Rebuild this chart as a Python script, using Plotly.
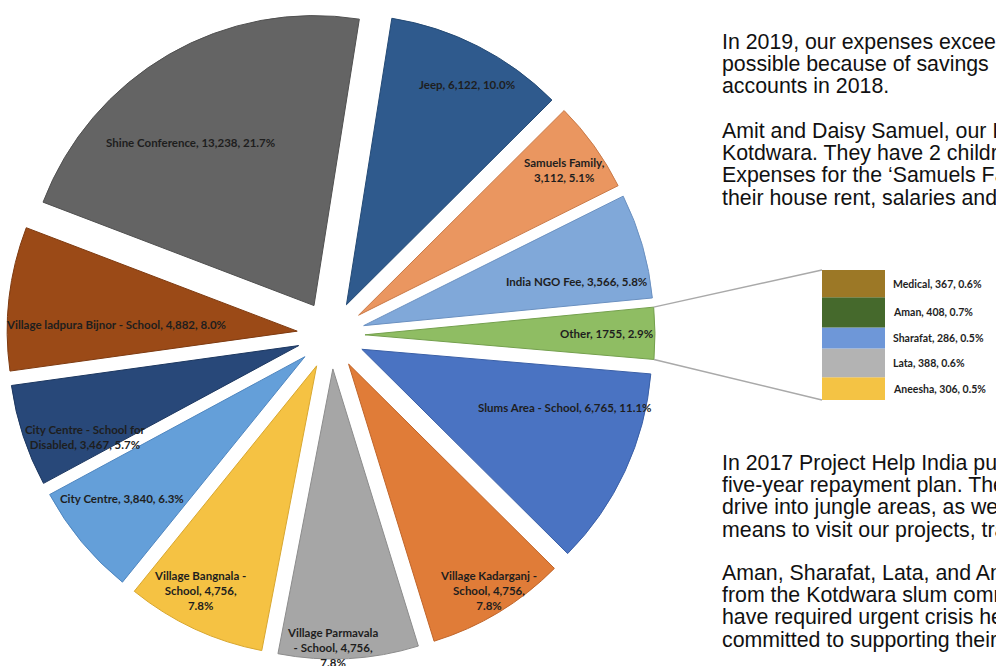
import math
import plotly.graph_objects as go

# ---------------- data ----------------
pie_labels = ["Jeep", "Samuels Family", "India NGO Fee", "Other", "Slums Area - School",
              "Village Kadarganj - School", "Village Parmavala - School", "Village Bangnala - School",
              "City Centre", "City Centre - School for Disabled", "Village ladpura Bijnor - School",
              "Shine Conference"]
pie_values = [6122, 3112, 3566, 1755, 6765, 4756, 4756, 4756, 3840, 3467, 4882, 13238]
pie_text = ["Jeep, 6,122, 10.0%",
            "Samuels Family,<br>3,112, 5.1%",
            "India NGO Fee, 3,566, 5.8%",
            "Other, 1755, 2.9%",
            "Slums Area - School, 6,765, 11.1%",
            "Village Kadarganj -<br>School, 4,756,<br>7.8%",
            "Village Parmavala<br>- School, 4,756,<br>7.8%",
            "Village Bangnala -<br>School, 4,756,<br>7.8%",
            "City Centre, 3,840, 6.3%",
            "City Centre - School for<br>Disabled, 3,467, 5.7%",
            "Village ladpura Bijnor - School, 4,882, 8.0%",
            "Shine Conference, 13,238, 21.7%"]

other_labels = ["Aneesha", "Lata", "Sharafat", "Aman", "Medical"]   # bottom to top
other_values = [306, 388, 286, 408, 367]
other_pct = ["0.5%", "0.6%", "0.5%", "0.7%", "0.6%"]

para_top = [
    ["In 2019, our expenses exceeded", "possible because of savings", "accounts in 2018."],
    ["Amit and Daisy Samuel, our India", "Kotdwara. They have 2 children", "Expenses for the \u2018Samuels Family\u2019",
     "their house rent, salaries and"],
]
para_bottom = [
    ["In 2017 Project Help India purchased", "five-year repayment plan. The", "drive into jungle areas, as well",
     "means to visit our projects, travel"],
    ["Aman, Sharafat, Lata, and Aneesha", "from the Kotdwara slum community", "have required urgent crisis help",
     "committed to supporting their"],
]

# ---------------- styles ----------------
pie_colors = ["#2F5A8D", "#EA9660", "#80A8D9", "#8FBD63", "#4A73C2", "#E07C38",
              "#A6A6A6", "#F5C243", "#649FD9", "#284879", "#9B4A17", "#646464"]
pie_lines = ["#244A75", "#C97A48", "#6A90C0", "#74A04D", "#3A5FA6", "#C0652A",
             "#8C8C8C", "#D8A730", "#4F86BF", "#1C3760", "#7E3A10", "#505050"]
other_colors = ["#F4C344", "#B3B3B3", "#6E97D8", "#45692C", "#9C7826"]
# label placement: distance from pie centre (px) and angular nudge from slice middle (deg)
label_dist = [285, 286, 251, 276, 245, 300, 313, 287, 265, 266, 215, 238]
label_nudge = [1.4, 0.5, 3.8, -0.1, -7.7, -0.4, 2.9, 2.3, 1.7, -4.3, -3.8, -6.0]

# ---------------- layout geometry (pixels) ----------------
W, H = 996, 666
CX, CY = 331, 335          # pie centre
R = 290                    # slice radius
P = 34                     # pull distance
ROT = 9                    # start angle, clockwise from 12 o'clock
pull = P / R
half = R + P

pie_dom_x = [(CX - half) / W, (CX + half) / W]
pie_dom_y = [1 - (CY + half) / H, 1 - (CY - half) / H]

bar_x0, bar_x1, bar_y0, bar_y1 = 822, 885, 270, 400
bar_dom_x = [bar_x0 / W, bar_x1 / W]
bar_dom_y = [1 - bar_y1 / H, 1 - bar_y0 / H]

fig = go.Figure()

fig.add_trace(go.Pie(
    labels=pie_labels, values=pie_values,
    textinfo="none",
    sort=False, direction="clockwise", rotation=ROT, pull=pull,
    marker=dict(colors=pie_colors, line=dict(color=pie_lines, width=1)),
    domain=dict(x=pie_dom_x, y=pie_dom_y),
    showlegend=False, hoverinfo="skip",
))

total_other = sum(other_values)
cum = 0
mids = []
for lab, v, col in zip(other_labels, other_values, other_colors):
    fig.add_trace(go.Bar(
        x=[0], y=[v], base=[cum], width=[1], marker=dict(color=col, line=dict(width=0)),
        xaxis="x", yaxis="y", showlegend=False, hoverinfo="skip",
    ))
    mids.append(cum + v / 2)
    cum += v

ann = []
for l, v, p, m in zip(other_labels, other_values, other_pct, mids):
    ann.append(dict(x=0.5, y=m, xref="x", yref="y", text=f"{l}, {v}, {p}",
                    showarrow=False, xanchor="left", yanchor="middle", xshift=6,
                    font=dict(family="Lato", size=10.5, color="#1e1e1e", weight="bold")))

# slice angles from the data
total = sum(pie_values)
starts, ends = [], []
acc = 0
for v in pie_values:
    starts.append(ROT + 360 * acc / total)
    acc += v
    ends.append(ROT + 360 * acc / total)

for i, t in enumerate(pie_text):
    a = math.radians((starts[i] + ends[i]) / 2 + label_nudge[i])
    px = CX + label_dist[i] * math.sin(a)
    py = CY - label_dist[i] * math.cos(a)
    ann.append(dict(x=px / W, y=1 - py / H, xref="paper", yref="paper", text=t,
                    showarrow=False, xanchor="center", yanchor="middle", align="center",
                    font=dict(family="Lato", size=11.5, color="#1e1e1e", weight="bold")))

# connector lines from the "Other" slice to the bar
idx = pie_labels.index("Other")
am = math.radians((starts[idx] + ends[idx]) / 2)
def corner(a_deg):
    a = math.radians(a_deg)
    return (CX + P * math.sin(am) + R * math.sin(a), CY - P * math.cos(am) - R * math.cos(a))
ux, uy = corner(starts[idx])
lx, ly = corner(ends[idx])
for (sx, sy), (ex, ey) in [((ux, uy), (bar_x0, bar_y0)), ((lx, ly), (bar_x0, bar_y1))]:
    fig.add_shape(type="line", xref="paper", yref="paper",
                  x0=sx / W, y0=1 - sy / H, x1=ex / W, y1=1 - ey / H,
                  line=dict(color="#A9A9A9", width=1.5))

# right-hand text
def add_para(lines, y_first, step=22.2):
    for i, t in enumerate(lines):
        ann.append(dict(x=720 / W, y=1 - (y_first + i * step) / H, xref="paper", yref="paper",
                        text=t, showarrow=False, xanchor="left", yanchor="middle",
                        font=dict(family="Liberation Sans, Arial", size=21.33, color="#111111")))
add_para(para_top[0], 42)
add_para(para_top[1], 131)
add_para(para_bottom[0], 463)
add_para(para_bottom[1], 573)

fig.update_layout(
    width=W, height=H, margin=dict(l=0, r=0, t=0, b=0),
    paper_bgcolor="white", plot_bgcolor="white",
    xaxis=dict(domain=bar_dom_x, range=[-0.5, 0.5], visible=False, fixedrange=True),
    yaxis=dict(domain=bar_dom_y, range=[0, total_other], visible=False, fixedrange=True),
    barmode="overlay", annotations=ann, showlegend=False,
)

fig.write_html("out.html", config={"displayModeBar": False},
               post_script="document.body.style.margin='0px';")
